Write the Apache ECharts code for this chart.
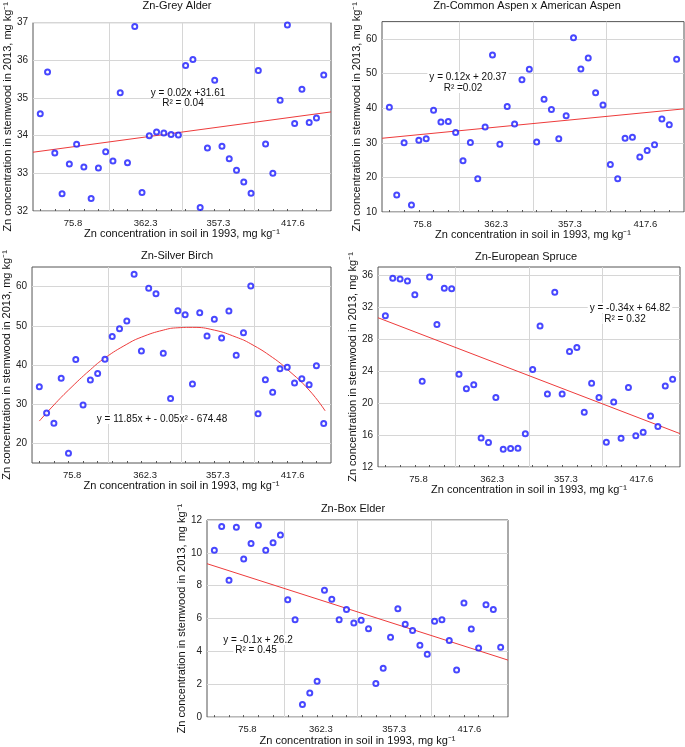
<!DOCTYPE html>
<html>
<head>
<meta charset="utf-8">
<script src="https://cdn.jsdelivr.net/npm/echarts@6/dist/echarts.min.js"></script>
<style>
html, body { margin: 0; padding: 0; background: #fff; }
#chart { width: 685px; height: 747px; }
</style>
</head>
<body>
<div id="chart"></div>
<script>
// x = plot order (1..40), labelled with soil Zn of 1993
var xTickLabels = ['75.8', '362.3', '357.3', '417.6'];
var xLabelPos = [5.5, 15.5, 25.5, 35.75];
var xGridPos = [10.5, 20.5, 30.5];
var xMin = 0, xMax = 41;

// Zn in stemwood 2013, mg/kg
var alderZn = [34.58, 35.69, 33.54, 32.46, 33.25, 33.77, 33.17, 32.33, 33.14, 33.57,
  33.33, 35.14, 33.28, 36.90, 32.49, 34.00, 34.10, 34.07, 34.03, 34.02,
  35.86, 36.02, 32.09, 33.67, 35.47, 33.72, 33.39, 33.08, 32.77, 32.47,
  35.73, 33.78, 33.00, 34.94, 36.94, 34.32, 35.23, 34.35, 34.47, 35.61];
var aspenZn = [40.26, 14.93, 30.0, 12.05, 30.76, 31.14, 39.42, 35.98, 36.17, 33.0,
  24.8, 30.1, 19.6, 34.58, 55.34, 29.55, 40.45, 35.42, 48.18, 51.25,
  30.2, 42.59, 39.61, 31.14, 37.84, 60.37, 51.34, 54.5, 44.45, 40.9,
  23.69, 19.6, 31.32, 31.6, 25.92, 27.78, 29.46, 36.9, 35.2, 54.13];
var birchZn = [34.48, 27.75, 25.14, 36.59, 17.47, 41.39, 29.77, 36.17, 37.85, 41.47,
  47.28, 49.22, 51.24, 63.12, 43.58, 59.58, 58.15, 42.99, 31.45, 53.85,
  52.84, 35.16, 53.35, 47.37, 51.66, 46.86, 53.77, 42.48, 48.21, 60.17,
  27.58, 36.25, 33.05, 39.03, 39.45, 35.41, 36.51, 34.99, 39.79, 25.05];
var spruceZn = [30.91, 35.58, 35.5, 35.25, 33.54, 22.73, 35.75, 29.82, 34.33, 34.29,
  23.6, 21.77, 22.27, 15.63, 15.05, 20.68, 14.21, 14.3, 14.34, 16.17,
  24.19, 29.61, 21.14, 33.83, 21.14, 26.44, 26.94, 18.85, 22.48, 20.68,
  15.09, 20.14, 15.59, 21.94, 15.92, 16.34, 18.39, 17.05, 22.14, 22.98];
var boxElderZn = [10.16, 11.6, 8.33, 11.56, 9.62, 10.57, 11.68, 10.16, 10.61, 11.09,
  7.14, 5.93, 0.77, 1.47, 2.18, 7.72, 7.18, 5.93, 6.55, 5.73,
  5.89, 5.38, 2.04, 2.98, 4.86, 6.59, 5.65, 5.28, 4.38, 3.83,
  5.83, 5.93, 4.66, 2.86, 6.94, 5.36, 4.21, 6.84, 6.55, 4.25];

// fitted lines read at the left/right edge of each plot
var alderFit = [33.56, 34.63];
var aspenFit = [31.3, 39.8];
var spruceFit = [30.66, 16.17];
var boxElderFit = [9.34, 3.47];
// quadratic fit for birch
var birchCurveX = [1, 3, 5, 8, 10, 13, 15, 18, 20, 22, 25, 28, 30, 33, 35, 38, 40.2];
var birchCurveY = [25.7, 29.8, 33.6, 38.8, 41.8, 45.3, 47.1, 48.9, 49.5, 49.6, 48.9, 47.1, 45.4, 41.9, 38.9, 33.6, 28.3];

// y ticks
var alderTicks = [32, 33, 34, 35, 36, 37];
var aspenTicks = [10, 20, 30, 40, 50, 60];
var birchTicks = [20, 30, 40, 50, 60];
var spruceTicks = [12, 16, 20, 24, 28, 32, 36];
var boxElderTicks = [0, 2, 4, 6, 8, 10, 12];

var FONT = 'Liberation Sans, Arial, sans-serif';
var xName = 'Zn concentration in soil in 1993, mg kg\u207B\u00B9';
var yName = 'Zn concentration in stemwood in 2013, mg kg\u207B\u00B9';

function toPoints(arr) {
  return arr.map(function (v, i) { return [i + 1, v]; });
}
function edgeLine(fit) {
  return [[xMin, fit[0]], [xMax, fit[1]]];
}

var panels = [
  { title: 'Zn-Grey Alder', rect: [33, 15, 298, 196], yMin: 32, yMax: 37, ticks: alderTicks,
    pts: toPoints(alderZn), fit: edgeLine(alderFit), smooth: false, titleAt: [177, 6],
    notes: [['y = 0.02x +31.61', 188, 93], ['R\u00B2 = 0.04', 183, 103]] },
  { title: 'Zn-Common Aspen x American Aspen', rect: [382, 15, 302, 197], yMin: 10, yMax: 65, ticks: aspenTicks,
    pts: toPoints(aspenZn), fit: edgeLine(aspenFit), smooth: false, titleAt: [527, 6],
    notes: [['y = 0.12x + 20.37', 468, 77], ['R\u00B2 =0.02', 463, 88]] },
  { title: 'Zn-Silver Birch', rect: [32, 267, 299, 196], yMin: 15, yMax: 65, ticks: birchTicks,
    pts: toPoints(birchZn),
    fit: birchCurveX.map(function (x, i) { return [x, birchCurveY[i]]; }), smooth: true, titleAt: [177, 256],
    notes: [['y = 11.85x + - 0.05x\u00B2 - 674.48', 162, 419]] },
  { title: 'Zn-European Spruce', rect: [378, 267, 302, 200], yMin: 12, yMax: 37, ticks: spruceTicks,
    pts: toPoints(spruceZn), fit: edgeLine(spruceFit), smooth: false, titleAt: [526, 257],
    notes: [['y = -0.34x + 64.82', 630, 308], ['R\u00B2 = 0.32', 625, 319]] },
  { title: 'Zn-Box Elder', rect: [207, 520, 301, 198], yMin: 0, yMax: 12, ticks: boxElderTicks,
    pts: toPoints(boxElderZn), fit: edgeLine(boxElderFit), smooth: false, titleAt: [353, 509],
    notes: [['y = -0.1x + 26.2', 258, 640], ['R\u00B2 = 0.45', 256, 650]] }
];

var grids = [], xAxes = [], yAxes = [], series = [], graphics = [];
panels.forEach(function (p, k) {
  grids.push({ left: p.rect[0], top: p.rect[1], width: p.rect[2], height: p.rect[3],
    show: true, borderColor: '#555', borderWidth: 1, backgroundColor: '#fff' });
  xAxes.push({
    gridIndex: k, type: 'value', min: xMin, max: xMax, interval: 2,
    axisLine: { show: false },
    axisTick: { show: false, inside: true, customValues: xGridPos },
    minorTick: { show: true, splitNumber: 2, length: 2, lineStyle: { color: '#555' } },
    splitLine: { show: true, lineStyle: { color: '#d6d6d6', width: 1 } },
    axisLabel: {
      customValues: xLabelPos, fontSize: 9.5, color: '#222', fontFamily: FONT, margin: 7,
      formatter: function (v) {
        for (var j = 0; j < xLabelPos.length; j++) {
          if (Math.abs(xLabelPos[j] - v) < 0.01) return xTickLabels[j];
        }
        return '';
      }
    },
    name: xName, nameLocation: 'middle', nameGap: 17,
    nameTextStyle: { fontSize: 11, color: '#111', fontFamily: FONT }
  });
  yAxes.push({
    gridIndex: k, type: 'value', min: p.yMin, max: p.yMax,
    axisLine: { show: false },
    axisTick: { show: false, customValues: p.ticks },
    splitLine: { show: true, lineStyle: { color: '#d6d6d6', width: 1 } },
    axisLabel: { customValues: p.ticks, fontSize: 10, color: '#222', fontFamily: FONT, margin: 5 },
    name: yName, nameLocation: 'middle', nameGap: 19, nameRotate: 90,
    nameTextStyle: { fontSize: 11, color: '#111', fontFamily: FONT }
  });
  series.push({
    type: 'scatter', xAxisIndex: k, yAxisIndex: k, data: p.pts,
    symbol: 'emptyCircle', symbolSize: 5,
    itemStyle: { color: '#1a1aff', borderWidth: 1.4 }, z: 4
  });
  series.push({
    type: 'line', xAxisIndex: k, yAxisIndex: k, data: p.fit, smooth: p.smooth,
    showSymbol: false, lineStyle: { color: '#ee3b3b', width: 1 }, z: 3
  });
  graphics.push({
    type: 'text', x: p.titleAt[0], y: p.titleAt[1], z: 5,
    style: { text: p.title, textAlign: 'center', textVerticalAlign: 'middle',
      font: '11px ' + FONT, fill: '#111' }
  });
  p.notes.forEach(function (n) {
    graphics.push({
      type: 'text', x: n[1], y: n[2], z: 2,
      style: { text: n[0], textAlign: 'center', textVerticalAlign: 'middle',
        font: '10px ' + FONT, fill: '#111', backgroundColor: '#fff', padding: [0, 2] }
    });
  });
});

var chart = echarts.init(document.getElementById('chart'));
chart.setOption({
  animation: false,
  backgroundColor: '#fff',
  grid: grids,
  xAxis: xAxes,
  yAxis: yAxes,
  series: series,
  graphic: graphics
});
</script>
</body>
</html>
